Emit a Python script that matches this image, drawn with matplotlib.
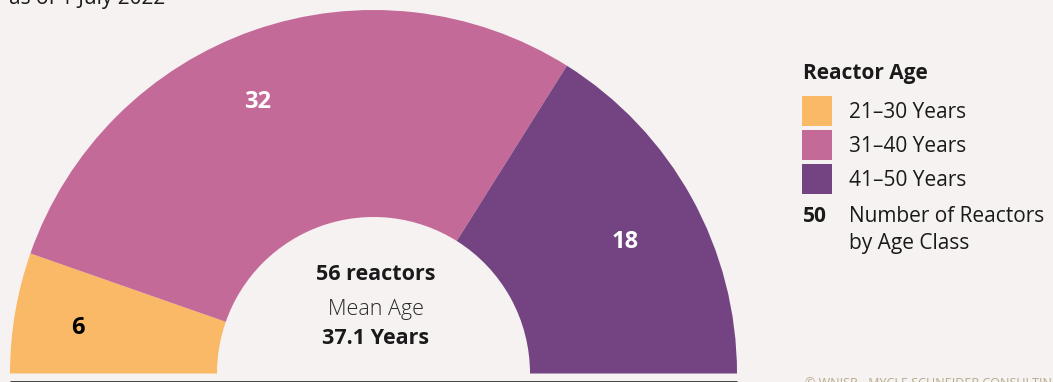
import numpy as np
import matplotlib
matplotlib.use("Agg")
import matplotlib.pyplot as plt

# reactor counts by age class
ageClasses = ["21\u201330 Years", "31\u201340 Years", "41\u201350 Years"]
reactorCounts = [6, 32, 18]
classColors = ["#f9b966", "#c46a98", "#744482"]
labelColors = ["black", "white", "white"]

totalReactors = 56
meanAge = 37.1

bg = "#f6f2f1"
ink = "#1a1a1a"
W, H = 1053, 382
FONT = "Open Sans"

fig = plt.figure(figsize=(W / 100, H / 100), dpi=100, facecolor=bg)
ax = fig.add_axes([0, 0, 1, 1])
ax.set_facecolor(bg)

# pixel-like coordinates, y measured up from the bottom edge
cx, cy = 373.5, H - 373.5
rOut, rIn = 363.5, 156.5

# half donut: visible classes plus an invisible lower half
vals = reactorCounts + [sum(reactorCounts)]
cols = classColors + ["none"]
ax.pie(vals, colors=cols, startangle=180, counterclock=False,
       radius=rOut, center=(cx, cy), frame=True,
       wedgeprops=dict(width=rOut - rIn, linewidth=0))

# value labels near the middle of each wedge (small hand nudges in px)
nudge = [(-4, -4), (-18, -8), (-8, -12)]
cum = np.cumsum([0] + reactorCounts)
for ii in range(len(reactorCounts)):
    mid = 180 - (cum[ii] + reactorCounts[ii] / 2) / sum(vals) * 360
    r = 0.815 * rOut
    x = cx + r * np.cos(np.radians(mid)) + nudge[ii][0]
    y = cy + r * np.sin(np.radians(mid)) + nudge[ii][1]
    ax.text(x, y, str(reactorCounts[ii]), ha="center", va="center",
            fontsize=17, fontweight="bold", color=labelColors[ii],
            family=FONT)

ax.set_xlim(0, W)
ax.set_ylim(0, H)
ax.set_aspect("auto")
ax.axis("off")

# centre text
ax.text(cx + 2, H - 274, "%d reactors" % totalReactors, ha="center", va="center",
        fontsize=15.5, fontweight="bold", color=ink, family=FONT)
ax.text(cx + 2, H - 310, "Mean Age", ha="center", va="center",
        fontsize=15.5, fontweight="light", color="#2a2a2a", family=FONT)
ax.text(cx + 2, H - 339, "%.1f Years" % meanAge, ha="center", va="center",
        fontsize=15.5, fontweight="bold", color=ink, family=FONT)

# baseline under the arc
ax.plot([10, 737], [H - 381.5, H - 381.5], color="#333333", lw=2,
        solid_capstyle="butt")

# subtitle cut at the top
ax.text(9, H - 4, "as of 1 July 2022", ha="left", va="baseline",
        fontsize=15, color=ink, family=FONT)

# legend
ax.text(803, H - 73, "Reactor Age", ha="left", va="center",
        fontsize=15, fontweight="bold", color=ink, family=FONT)
for ii, (lab, col) in enumerate(zip(ageClasses, classColors)):
    top = 96 + ii * 34
    ax.add_patch(plt.Rectangle((802, H - top - 30), 30, 30, color=col, lw=0))
    ax.text(849, H - top - 16, lab, ha="left", va="center",
            fontsize=15, color=ink, family=FONT)
ax.text(803, H - 217, "50", ha="left", va="center",
        fontsize=15, fontweight="bold", color=ink, family=FONT)
ax.text(849, H - 217, "Number of Reactors", ha="left", va="center",
        fontsize=15, color=ink, family=FONT)
ax.text(849, H - 243, "by Age Class", ha="left", va="center",
        fontsize=15, color=ink, family=FONT)

# credit line, mostly below the edge
ax.text(805, H - 377, "\u00a9 WNISR - MYCLE SCHNEIDER CONSULTING", ha="left", va="top",
        fontsize=9, color="#b9aa8c", family=FONT)

fig.savefig("out.png", dpi=100, facecolor=bg)
